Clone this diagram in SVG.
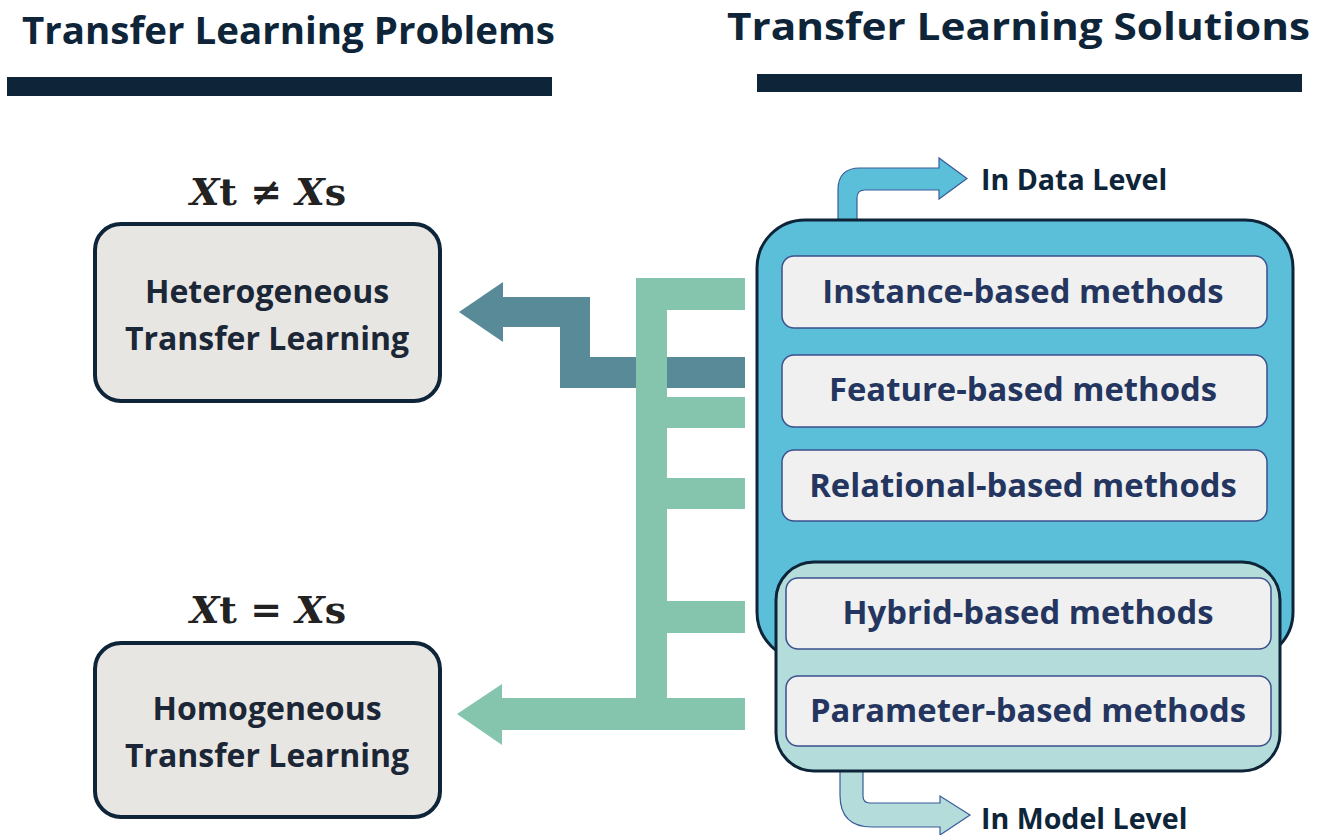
<svg xmlns="http://www.w3.org/2000/svg" width="1318" height="835" viewBox="0 0 1318 835">
<style>
.title{font-family:"Open Sans","Liberation Sans",sans-serif;font-weight:bold;font-size:38px;fill:#0e2539}
.prob{font-family:"Open Sans","Liberation Sans",sans-serif;font-weight:bold;font-size:32px;fill:#1b2736;text-anchor:middle}
.meth{font-family:"Open Sans","Liberation Sans",sans-serif;font-weight:bold;font-size:32.8px;fill:#24365f;text-anchor:middle}
.lvl{font-family:"Open Sans","Liberation Sans",sans-serif;font-weight:bold;font-size:28.6px;fill:#0e2539}
.math{font-family:"DejaVu Serif","Liberation Serif",serif;font-weight:bold;font-size:38px;fill:#222}
.pbox{fill:#e8e6e3;stroke:#0e2539;stroke-width:4}
.mbox{fill:#f0f0f0;stroke:#3b4f8c;stroke-width:1.5}
.bar{fill:#0e2539}
</style>
<rect width="1318" height="835" fill="#fff"/>
<g id="headers">
<text class="title" x="22" y="44" textLength="533" lengthAdjust="spacingAndGlyphs">Transfer Learning Problems</text>
<rect class="bar" x="7" y="77" width="545" height="19"/>
<text class="title" x="727" y="40" textLength="583" lengthAdjust="spacingAndGlyphs">Transfer Learning Solutions</text>
<rect class="bar" x="757" y="74" width="545" height="18"/>
</g>
<g id="connectors">
<path d="M838,221 V190 Q838,168 860,168 H939 V158 L967,178.5 L939,199 V190 H865 Q857,190 857,198 V221 Z" fill="#5bbfda" stroke="#3b5a9a" stroke-width="1.2"/>
<path d="M840,771 V795 Q840,827 872,827 H940 V835 L970,815 L940,796 V803 H870 Q863,803 863,796 V771 Z" fill="#b3dcdb" stroke="#3b5a9a" stroke-width="1.2"/>
<path d="M745,357 H560 V327 H503 V342 L459,312 L503,282 V297 H590 V357" fill="#588a98"/>
<path d="M745,357 H590 V388 H745 Z" fill="#588a98"/>
<path d="M560,357 H592 V388 H560 Z" fill="#588a98"/>
<path d="M636,278 H745 V310 H667 V397 H745 V428 H667 V478 H745 V509 H667 V601 H745 V633 H667 V698 H745 V730 H502 V745 L457,714 L502,684 V698 H636 Z" fill="#85c5ad"/>
</g>
<g id="math-top"><text class="math" x="268" y="205" text-anchor="middle"><tspan font-style="italic">X</tspan>t ≠ <tspan font-style="italic">X</tspan>s</text></g>
<g id="math-bottom"><text class="math" x="268" y="623" text-anchor="middle"><tspan font-style="italic">X</tspan>t = <tspan font-style="italic">X</tspan>s</text></g>
<g id="heterogeneous">
<rect class="pbox" x="95" y="224" width="345" height="177" rx="26"/>
<text class="prob" x="267" y="303">Heterogeneous</text>
<text class="prob" x="267" y="350">Transfer Learning</text>
</g>
<g id="homogeneous">
<rect class="pbox" x="95" y="643" width="345" height="174" rx="26"/>
<text class="prob" x="267" y="720">Homogeneous</text>
<text class="prob" x="267" y="767">Transfer Learning</text>
</g>
<g id="data-level">
<rect x="757" y="220" width="536" height="440" rx="48" fill="#5bbfda" stroke="#0e2539" stroke-width="3"/>
</g>
<g id="instance"><rect class="mbox" x="782" y="256" width="485" height="72" rx="12"/><text class="meth" x="1023" y="303">Instance-based methods</text></g>
<g id="feature"><rect class="mbox" x="782" y="355" width="485" height="72" rx="12"/><text class="meth" x="1023" y="401">Feature-based methods</text></g>
<g id="relational"><rect class="mbox" x="782" y="450" width="485" height="71" rx="12"/><text class="meth" x="1023" y="497">Relational-based methods</text></g>
<g id="model-level">
<rect x="776" y="562" width="504" height="209" rx="38" fill="#b3dcdb" stroke="#0e2539" stroke-width="3"/>
</g>
<g id="hybrid"><rect class="mbox" x="786" y="578" width="485" height="71" rx="12"/><text class="meth" x="1028" y="624">Hybrid-based methods</text></g>
<g id="parameter"><rect class="mbox" x="786" y="676" width="485" height="70" rx="12"/><text class="meth" x="1028" y="722">Parameter-based methods</text></g>
<g id="labels">
<text class="lvl" x="981" y="190">In Data Level</text>
<text class="lvl" x="981" y="829">In Model Level</text>
</g>
</svg>
